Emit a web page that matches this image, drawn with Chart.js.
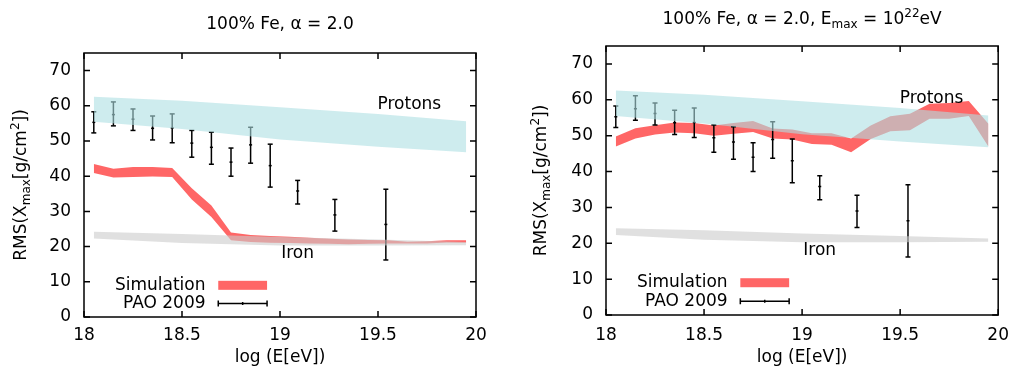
<!DOCTYPE html>
<html>
<head>
<meta charset="utf-8">
<script src="https://cdn.jsdelivr.net/npm/chart.js@4/dist/chart.umd.min.js"></script>
<style>
  html, body { margin: 0; padding: 0; background: #fff; }
  #wrap { position: relative; width: 1019px; height: 380px; }
  canvas { position: absolute; top: 0; }
</style>
</head>
<body>
<div id="wrap">
  <canvas id="left" width="510" height="380" style="left:0"></canvas>
  <canvas id="right" width="509" height="380" style="left:510px"></canvas>
</div>
<script>
// axis ticks
var xTicks = [18, 18.5, 19, 19.5, 20];
var yTicks = [0, 10, 20, 30, 40, 50, 60, 70];

// PAO 2009 measurements (same on both panels)
var paoX  = [18.05, 18.15, 18.25, 18.35, 18.45, 18.55, 18.65, 18.75, 18.85, 18.95, 19.09, 19.28, 19.54];
var paoY  = [55.3, 57.5, 56.2, 53.6, 53.7, 49.4, 48.2, 44.0, 48.9, 43.0, 35.8, 29.0, 26.3];
var paoLo = [52.3, 54.3, 53.0, 50.3, 49.5, 45.4, 43.4, 40.0, 43.7, 36.9, 32.1, 24.4, 16.2];
var paoHi = [58.3, 61.1, 59.1, 57.1, 57.7, 53.0, 52.5, 48.0, 53.9, 49.1, 38.8, 33.4, 36.3];

// proton / iron reference bands
var bandX    = [18.05, 18.5, 19, 19.5, 19.95];
var protonHi = [62.6, 61.4, 59.6, 57.7, 55.6];
var protonLo = [55.5, 53.4, 50.4, 48.4, 46.8];
var ironHi   = [24.2, 23.6, 22.7, 22.0, 21.3];
var ironLo   = [22.3, 21.0, 20.3, 20.3, 20.4];

// simulation bands
var simX = [18.05, 18.15, 18.25, 18.35, 18.45, 18.55, 18.65, 18.75, 18.85, 18.95,
            19.05, 19.15, 19.25, 19.35, 19.45, 19.55, 19.65, 19.75, 19.85, 19.95];
// left: 100% Fe, alpha = 2.0
var simHiA = [43.5, 42.1, 42.6, 42.6, 42.3, 36.6, 31.7, 24.0, 23.3, 23.0,
              22.8, 22.5, 22.2, 22.0, 21.9, 21.8, 21.4, 21.5, 21.8, 21.8];
var simLoA = [40.9, 39.6, 39.8, 39.9, 39.8, 33.4, 28.4, 21.8, 21.3, 21.1,
              21.0, 20.9, 20.8, 20.7, 20.8, 20.9, 20.9, 20.9, 21.2, 21.1];
// right: 100% Fe, alpha = 2.0, Emax = 1e22 eV
var simHiB = [49.8, 52.1, 52.9, 53.7, 53.5, 52.8, 53.5, 54.1, 52.0, 51.7,
              50.7, 50.7, 49.2, 52.8, 55.4, 56.1, 58.9, 59.1, 59.7, 53.3];
var simLoB = [47.0, 49.2, 50.3, 50.9, 50.7, 50.0, 50.5, 51.0, 49.2, 48.9,
              47.7, 47.5, 45.4, 49.1, 51.2, 51.5, 54.7, 54.7, 55.5, 47.0];

var FAMILY = "'DejaVu Sans', Verdana, sans-serif";
var FONT = '17px ' + FAMILY;
var SMALL = '12px ' + FAMILY;
var RED = 'rgb(255,102,102)';
var CYAN = 'rgba(174,223,226,0.6)';
var GRAY = 'rgba(204,204,204,0.6)';

Chart.defaults.font.family = FAMILY;
Chart.defaults.font.size = 17;
Chart.defaults.color = '#000';

function pts(xs, ys) {
  return xs.map(function (x, i) { return { x: x, y: ys[i] }; });
}

function errorBars() {
  var out = [];
  paoX.forEach(function (x, i) {
    out.push({ x: x, y: paoLo[i] }, { x: x, y: paoHi[i] }, { x: x, y: null });
  });
  return out;
}

function bandPair(xs, hi, lo, color) {
  return [
    { data: pts(xs, hi), fill: '+1', backgroundColor: color, borderColor: 'transparent', borderWidth: 0, pointRadius: 0 },
    { data: pts(xs, lo), fill: false, borderColor: 'transparent', borderWidth: 0, pointRadius: 0 }
  ];
}

function buildDatasets(simHi, simLo) {
  return [].concat(
    bandPair(bandX, protonHi, protonLo, CYAN),
    bandPair(bandX, ironHi, ironLo, GRAY),
    [
      { data: errorBars(), spanGaps: false, fill: false, borderColor: '#000', borderWidth: 1.5,
        pointStyle: 'line', pointRadius: 2.5, pointBorderWidth: 1.5, pointBorderColor: '#000' },
      { data: pts(paoX, paoY), showLine: false, pointStyle: 'line', pointRadius: 1.5,
        pointBorderWidth: 1.5, pointBorderColor: '#000', borderColor: '#000' }
    ],
    bandPair(simX, simHi, simLo, RED)
  );
}

// text with sub/superscripts
function richText(ctx, parts, x, y, align) {
  var widths = parts.map(function (p) {
    ctx.font = (p.sub || p.sup) ? SMALL : FONT;
    return ctx.measureText(p.t).width;
  });
  var total = widths.reduce(function (s, w) { return s + w; }, 0);
  var cx = align === 'center' ? x - total / 2 : x;
  ctx.textAlign = 'left';
  ctx.textBaseline = 'alphabetic';
  parts.forEach(function (p, i) {
    ctx.font = (p.sub || p.sup) ? SMALL : FONT;
    ctx.fillText(p.t, cx, y + (p.sub ? 4 : p.sup ? -7 : 0));
    cx += widths[i];
  });
}

var yTitle = [{ t: 'RMS(X' }, { t: 'max', sub: true }, { t: '[g/cm' }, { t: '2', sup: true }, { t: '])' }];

function decor(cfg) {
  return {
    id: 'decor',
    afterDatasetsDraw: function (chart) {
      var ctx = chart.ctx, a = chart.chartArea;
      var xs = chart.scales.x, ys = chart.scales.y;
      ctx.save();
      ctx.strokeStyle = '#000';
      ctx.lineWidth = 1.5;
      ctx.strokeRect(a.left, a.top, a.right - a.left, a.bottom - a.top);
      // gnuplot style inward ticks, mirrored
      ctx.beginPath();
      xs.ticks.forEach(function (t) {
        var px = xs.getPixelForValue(t.value);
        ctx.moveTo(px, a.bottom); ctx.lineTo(px, a.bottom - 6);
        ctx.moveTo(px, a.top); ctx.lineTo(px, a.top + 6);
      });
      ys.ticks.forEach(function (t) {
        var py = ys.getPixelForValue(t.value);
        ctx.moveTo(a.left, py); ctx.lineTo(a.left + 6, py);
        ctx.moveTo(a.right, py); ctx.lineTo(a.right - 6, py);
      });
      ctx.stroke();

      ctx.fillStyle = '#000';
      ctx.font = FONT;
      ctx.textAlign = 'center';
      ctx.textBaseline = 'middle';
      ctx.fillText('Protons', xs.getPixelForValue(19.66), ys.getPixelForValue(60.3));
      ctx.fillText('Iron', xs.getPixelForValue(19.09), ys.getPixelForValue(18.0));

      // key
      var kx = xs.getPixelForValue(18.62);
      var s0 = xs.getPixelForValue(18.685), s1 = xs.getPixelForValue(18.934);
      var r1 = ys.getPixelForValue(9.0), r2 = ys.getPixelForValue(3.8);
      ctx.textAlign = 'right';
      ctx.fillText('Simulation', kx, r1);
      ctx.fillText('PAO 2009', kx, r2);
      ctx.fillStyle = RED;
      ctx.fillRect(s0, r1 - 4.5, s1 - s0, 9);
      ctx.beginPath();
      ctx.moveTo(s0, r2); ctx.lineTo(s1, r2);
      ctx.moveTo(s0, r2 - 3); ctx.lineTo(s0, r2 + 3);
      ctx.moveTo(s1, r2 - 3); ctx.lineTo(s1, r2 + 3);
      var sm = (s0 + s1) / 2;
      ctx.moveTo(sm, r2 - 1.5); ctx.lineTo(sm, r2 + 1.5);
      ctx.stroke();

      // y title
      ctx.fillStyle = '#000';
      ctx.save();
      ctx.translate(cfg.yTitleX, (a.top + a.bottom) / 2);
      ctx.rotate(-Math.PI / 2);
      richText(ctx, yTitle, 0, 0, 'center');
      ctx.restore();

      // chart title
      richText(ctx, cfg.title, (a.left + a.right) / 2, cfg.titleY, 'center');
      ctx.restore();
    }
  };
}

function makeChart(id, simHi, simLo, cfg) {
  return new Chart(document.getElementById(id), {
    type: 'line',
    data: { datasets: buildDatasets(simHi, simLo) },
    options: {
      responsive: false,
      animation: false,
      events: [],
      layout: { padding: { top: cfg.top, right: cfg.right, bottom: 0, left: 0 } },
      elements: { line: { tension: 0 } },
      plugins: { legend: { display: false }, tooltip: { enabled: false } },
      scales: {
        x: {
          type: 'linear', min: 18, max: 20,
          grid: { display: false, drawTicks: false },
          border: { display: false },
          ticks: { padding: cfg.xPad, callback: function (v) { return String(v); } },
          afterBuildTicks: function (s) { s.ticks = xTicks.map(function (v) { return { value: v }; }); },
          afterFit: function (s) { s.height = cfg.xHeight; },
          title: { display: true, text: 'log (E[eV])', padding: { top: 0, bottom: 12 } }
        },
        y: {
          type: 'linear', min: 0, max: 75,
          grid: { display: false, drawTicks: false },
          border: { display: false },
          ticks: { padding: 13, callback: function (v) { return String(v); } },
          afterBuildTicks: function (s) { s.ticks = yTicks.map(function (v) { return { value: v }; }); },
          afterFit: function (s) { s.width = cfg.yWidth; }
        }
      }
    },
    plugins: [decor(cfg)]
  });
}

makeChart('left', simHiA, simLoA, {
  top: 53, right: 34, yWidth: 84, xHeight: 63, xPad: 8,
  yTitleX: 26, titleY: 29,
  title: [{ t: '100% Fe, \u03b1 = 2.0' }]
});

makeChart('right', simHiB, simLoB, {
  top: 46, right: 17, yWidth: 96, xHeight: 65, xPad: 10,
  yTitleX: 36, titleY: 24,
  title: [{ t: '100% Fe, \u03b1 = 2.0, E' }, { t: 'max', sub: true }, { t: ' = 10' }, { t: '22', sup: true }, { t: 'eV' }]
});
</script>
</body>
</html>
